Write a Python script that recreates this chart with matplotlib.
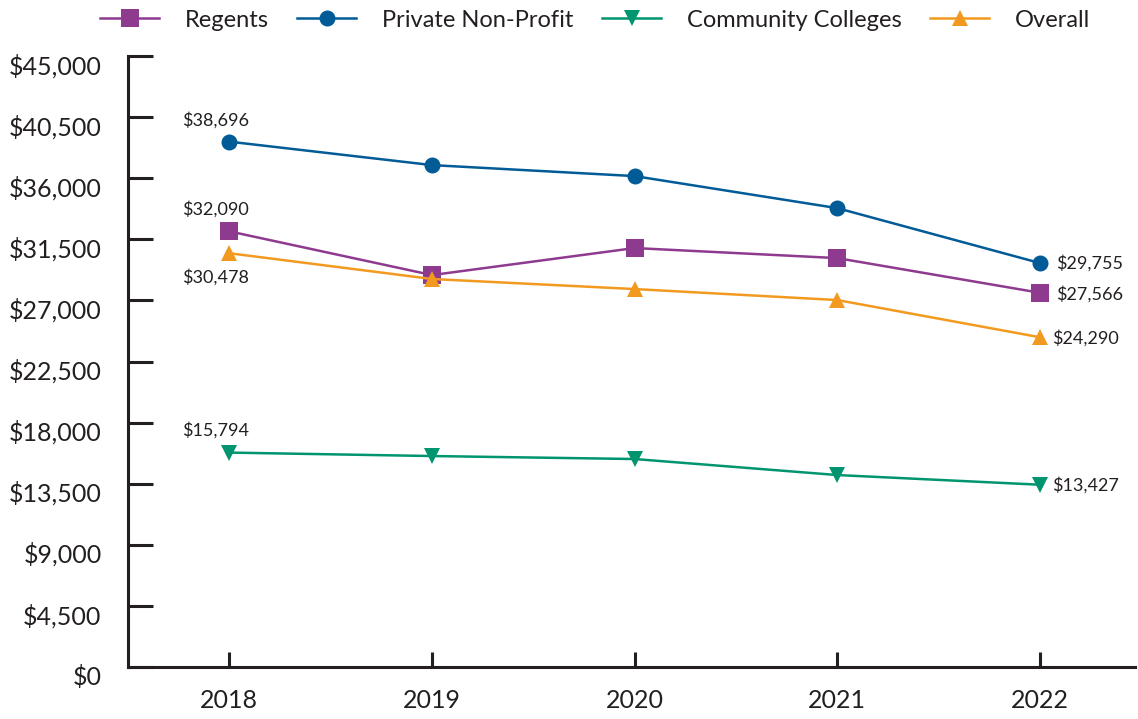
import matplotlib
matplotlib.use("Agg")
import matplotlib.pyplot as plt
import matplotlib.transforms as mtransforms
from matplotlib.ticker import FuncFormatter

plt.rcParams['font.family'] = ['Lato', 'DejaVu Sans']

# data
years = [2018, 2019, 2020, 2021, 2022]
regents = [32090, 28870, 30860, 30120, 27566]
private = [38696, 36970, 36160, 33800, 29755]
community = [15794, 15540, 15320, 14140, 13427]
overall = [30478, 28580, 27840, 27030, 24290]
yticks = [0, 4500, 9000, 13500, 18000, 22500, 27000, 31500, 36000, 40500, 45000]

PURPLE = '#8E3A8F'
BLUE = '#005B96'
GREEN = '#00956E'
ORANGE = '#F29A1F'
INK = '#231F20'

fig = plt.figure(figsize=(11.38, 7.19), dpi=100)
ax = fig.add_axes([0.1125, 0.0723, 0.885, 0.8497])

series = [
    ('Regents', regents, PURPLE, 's', 13),
    ('Private Non-Profit', private, BLUE, 'o', 11.5),
    ('Community Colleges', community, GREEN, 'v', 12),
    ('Overall', overall, ORANGE, '^', 12),
]
for name, vals, col, mk, ms in series:
    ax.plot(years, vals, color=col, lw=1.8, marker=mk, markersize=ms,
            markeredgewidth=0, label=name, clip_on=False, zorder=3)

ax.set_xlim(2017.5, 2022.47)
ax.set_ylim(0, 45000)
ax.set_xticks(years)
ax.set_yticks(yticks)
ax.yaxis.set_major_formatter(FuncFormatter(lambda v, p: f"${v:,.0f}"))

for s in ['top', 'right']:
    ax.spines[s].set_visible(False)
for s in ['left', 'bottom']:
    ax.spines[s].set_linewidth(2.2)
    ax.spines[s].set_color(INK)

ax.tick_params(axis='y', direction='in', length=18, width=2.2, color=INK,
               labelsize=18, labelcolor=INK, pad=19)
ax.tick_params(axis='x', direction='in', length=11, width=2.2, color=INK,
               labelsize=18, labelcolor=INK, pad=16)
ax.yaxis.get_major_ticks()[-1].tick1line.set_color('#8C8C8C')

# y labels sit a little below their ticks
off = mtransforms.ScaledTranslation(0, -8 / 100, fig.dpi_scale_trans)
for lbl in ax.get_yticklabels():
    lbl.set_transform(lbl.get_transform() + off)

# value labels
ann = dict(textcoords='offset pixels', fontsize=13, color=INK)
ax.annotate(f"${private[0]:,}", (years[0], private[0]), xytext=(-14, 21),
            ha='center', va='center', **ann)
ax.annotate(f"${regents[0]:,}", (years[0], regents[0]), xytext=(-14, 22),
            ha='center', va='center', **ann)
ax.annotate(f"${overall[0]:,}", (years[0], overall[0]), xytext=(-14, -24),
            ha='center', va='center', **ann)
ax.annotate(f"${community[0]:,}", (years[0], community[0]), xytext=(-14, 22),
            ha='center', va='center', **ann)
ax.annotate(f"${private[-1]:,}", (years[-1], private[-1]), xytext=(16, 0),
            ha='left', va='center', **ann)
ax.annotate(f"${regents[-1]:,}", (years[-1], regents[-1]), xytext=(16, -1),
            ha='left', va='center', **ann)
ax.annotate(f"${overall[-1]:,}", (years[-1], overall[-1]), xytext=(12, -1),
            ha='left', va='center', **ann)
ax.annotate(f"${community[-1]:,}", (years[-1], community[-1]), xytext=(12, 0),
            ha='left', va='center', **ann)

leg = fig.legend(loc='center', bbox_to_anchor=(0.523, 0.972), ncol=4,
                 frameon=False, fontsize=17, handlelength=2.5,
                 handletextpad=1.1, columnspacing=1.2)
for t in leg.get_texts():
    t.set_color(INK)

fig.savefig('out.png', dpi=100)
